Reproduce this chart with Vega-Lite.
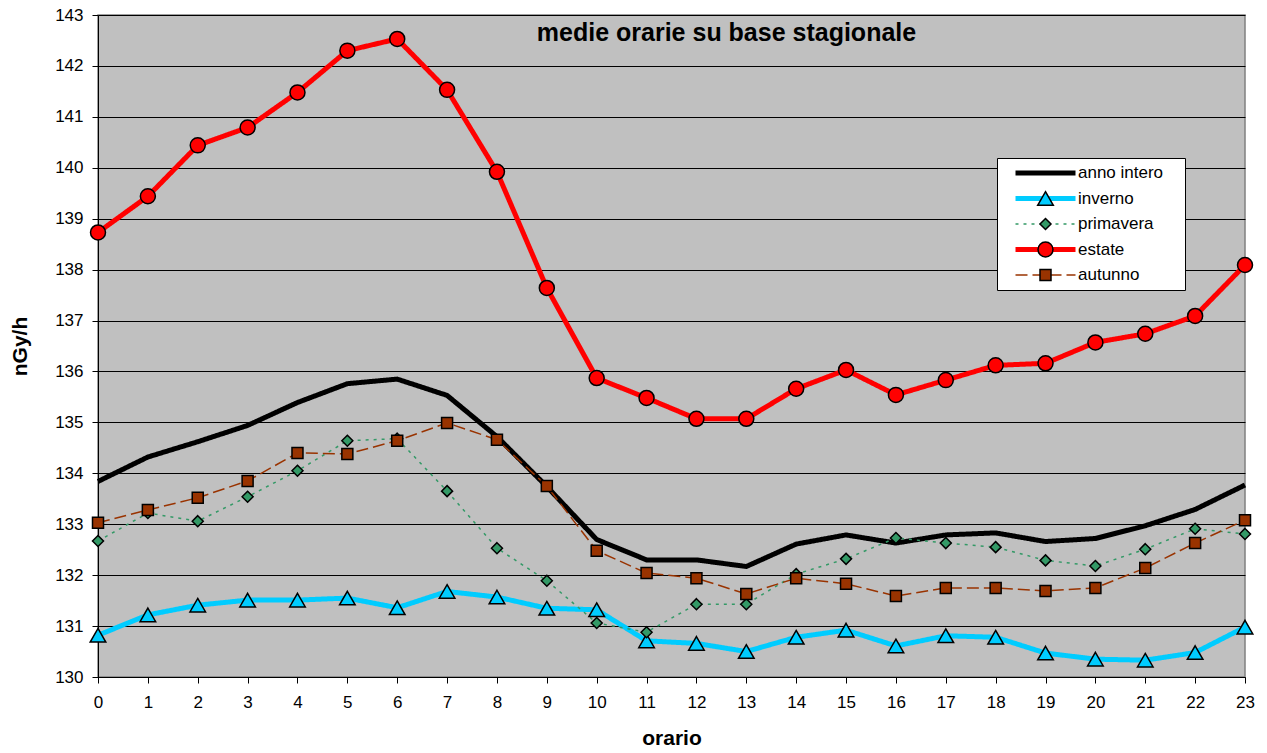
{
  "$schema": "https://vega.github.io/schema/vega-lite/v6.json",
  "width": 1147,
  "height": 662,
  "autosize": {"type": "none"},
  "padding": {"left": 98, "top": 15, "right": 22, "bottom": 76},
  "background": "white",
  "config": {
    "font": "Liberation Sans",
    "view": {"fill": "#C0C0C0", "stroke": "#808080", "strokeWidth": 1.5}
  },
  "title": {
    "text": "medie orarie su base stagionale",
    "font": "Liberation Sans",
    "fontSize": 25,
    "fontWeight": "bold",
    "color": "black",
    "anchor": "middle",
    "frame": "group",
    "offset": -40,
    "dx": 55
  },
  "data": {
    "values": [
      {"ora": 0, "serie": "anno intero", "valore": 133.84},
      {"ora": 1, "serie": "anno intero", "valore": 134.32},
      {"ora": 2, "serie": "anno intero", "valore": 134.62},
      {"ora": 3, "serie": "anno intero", "valore": 134.94},
      {"ora": 4, "serie": "anno intero", "valore": 135.39},
      {"ora": 5, "serie": "anno intero", "valore": 135.76},
      {"ora": 6, "serie": "anno intero", "valore": 135.85},
      {"ora": 7, "serie": "anno intero", "valore": 135.53},
      {"ora": 8, "serie": "anno intero", "valore": 134.72},
      {"ora": 9, "serie": "anno intero", "valore": 133.74},
      {"ora": 10, "serie": "anno intero", "valore": 132.70},
      {"ora": 11, "serie": "anno intero", "valore": 132.30},
      {"ora": 12, "serie": "anno intero", "valore": 132.30},
      {"ora": 13, "serie": "anno intero", "valore": 132.17},
      {"ora": 14, "serie": "anno intero", "valore": 132.61},
      {"ora": 15, "serie": "anno intero", "valore": 132.79},
      {"ora": 16, "serie": "anno intero", "valore": 132.63},
      {"ora": 17, "serie": "anno intero", "valore": 132.79},
      {"ora": 18, "serie": "anno intero", "valore": 132.83},
      {"ora": 19, "serie": "anno intero", "valore": 132.66},
      {"ora": 20, "serie": "anno intero", "valore": 132.72},
      {"ora": 21, "serie": "anno intero", "valore": 132.97},
      {"ora": 22, "serie": "anno intero", "valore": 133.29},
      {"ora": 23, "serie": "anno intero", "valore": 133.77},
      {"ora": 0, "serie": "inverno", "valore": 130.82},
      {"ora": 1, "serie": "inverno", "valore": 131.22},
      {"ora": 2, "serie": "inverno", "valore": 131.41},
      {"ora": 3, "serie": "inverno", "valore": 131.51},
      {"ora": 4, "serie": "inverno", "valore": 131.51},
      {"ora": 5, "serie": "inverno", "valore": 131.55},
      {"ora": 6, "serie": "inverno", "valore": 131.36},
      {"ora": 7, "serie": "inverno", "valore": 131.68},
      {"ora": 8, "serie": "inverno", "valore": 131.57},
      {"ora": 9, "serie": "inverno", "valore": 131.35},
      {"ora": 10, "serie": "inverno", "valore": 131.32},
      {"ora": 11, "serie": "inverno", "valore": 130.71},
      {"ora": 12, "serie": "inverno", "valore": 130.66},
      {"ora": 13, "serie": "inverno", "valore": 130.50},
      {"ora": 14, "serie": "inverno", "valore": 130.78},
      {"ora": 15, "serie": "inverno", "valore": 130.92},
      {"ora": 16, "serie": "inverno", "valore": 130.61},
      {"ora": 17, "serie": "inverno", "valore": 130.81},
      {"ora": 18, "serie": "inverno", "valore": 130.78},
      {"ora": 19, "serie": "inverno", "valore": 130.47},
      {"ora": 20, "serie": "inverno", "valore": 130.35},
      {"ora": 21, "serie": "inverno", "valore": 130.33},
      {"ora": 22, "serie": "inverno", "valore": 130.48},
      {"ora": 23, "serie": "inverno", "valore": 130.98},
      {"ora": 0, "serie": "primavera", "valore": 132.67},
      {"ora": 1, "serie": "primavera", "valore": 133.22},
      {"ora": 2, "serie": "primavera", "valore": 133.06},
      {"ora": 3, "serie": "primavera", "valore": 133.54},
      {"ora": 4, "serie": "primavera", "valore": 134.05},
      {"ora": 5, "serie": "primavera", "valore": 134.64},
      {"ora": 6, "serie": "primavera", "valore": 134.68},
      {"ora": 7, "serie": "primavera", "valore": 133.65},
      {"ora": 8, "serie": "primavera", "valore": 132.53},
      {"ora": 9, "serie": "primavera", "valore": 131.89},
      {"ora": 10, "serie": "primavera", "valore": 131.06},
      {"ora": 11, "serie": "primavera", "valore": 130.88},
      {"ora": 12, "serie": "primavera", "valore": 131.43},
      {"ora": 13, "serie": "primavera", "valore": 131.43},
      {"ora": 14, "serie": "primavera", "valore": 132.02},
      {"ora": 15, "serie": "primavera", "valore": 132.32},
      {"ora": 16, "serie": "primavera", "valore": 132.73},
      {"ora": 17, "serie": "primavera", "valore": 132.63},
      {"ora": 18, "serie": "primavera", "valore": 132.55},
      {"ora": 19, "serie": "primavera", "valore": 132.29},
      {"ora": 20, "serie": "primavera", "valore": 132.18},
      {"ora": 21, "serie": "primavera", "valore": 132.51},
      {"ora": 22, "serie": "primavera", "valore": 132.91},
      {"ora": 23, "serie": "primavera", "valore": 132.81},
      {"ora": 0, "serie": "estate", "valore": 138.73},
      {"ora": 1, "serie": "estate", "valore": 139.44},
      {"ora": 2, "serie": "estate", "valore": 140.44},
      {"ora": 3, "serie": "estate", "valore": 140.79},
      {"ora": 4, "serie": "estate", "valore": 141.48},
      {"ora": 5, "serie": "estate", "valore": 142.30},
      {"ora": 6, "serie": "estate", "valore": 142.53},
      {"ora": 7, "serie": "estate", "valore": 141.53},
      {"ora": 8, "serie": "estate", "valore": 139.92},
      {"ora": 9, "serie": "estate", "valore": 137.64},
      {"ora": 10, "serie": "estate", "valore": 135.87},
      {"ora": 11, "serie": "estate", "valore": 135.48},
      {"ora": 12, "serie": "estate", "valore": 135.07},
      {"ora": 13, "serie": "estate", "valore": 135.07},
      {"ora": 14, "serie": "estate", "valore": 135.66},
      {"ora": 15, "serie": "estate", "valore": 136.03},
      {"ora": 16, "serie": "estate", "valore": 135.54},
      {"ora": 17, "serie": "estate", "valore": 135.83},
      {"ora": 18, "serie": "estate", "valore": 136.12},
      {"ora": 19, "serie": "estate", "valore": 136.16},
      {"ora": 20, "serie": "estate", "valore": 136.57},
      {"ora": 21, "serie": "estate", "valore": 136.74},
      {"ora": 22, "serie": "estate", "valore": 137.09},
      {"ora": 23, "serie": "estate", "valore": 138.09},
      {"ora": 0, "serie": "autunno", "valore": 133.03},
      {"ora": 1, "serie": "autunno", "valore": 133.28},
      {"ora": 2, "serie": "autunno", "valore": 133.52},
      {"ora": 3, "serie": "autunno", "valore": 133.85},
      {"ora": 4, "serie": "autunno", "valore": 134.40},
      {"ora": 5, "serie": "autunno", "valore": 134.38},
      {"ora": 6, "serie": "autunno", "valore": 134.64},
      {"ora": 7, "serie": "autunno", "valore": 134.99},
      {"ora": 8, "serie": "autunno", "valore": 134.66},
      {"ora": 9, "serie": "autunno", "valore": 133.75},
      {"ora": 10, "serie": "autunno", "valore": 132.48},
      {"ora": 11, "serie": "autunno", "valore": 132.04},
      {"ora": 12, "serie": "autunno", "valore": 131.94},
      {"ora": 13, "serie": "autunno", "valore": 131.63},
      {"ora": 14, "serie": "autunno", "valore": 131.94},
      {"ora": 15, "serie": "autunno", "valore": 131.83},
      {"ora": 16, "serie": "autunno", "valore": 131.59},
      {"ora": 17, "serie": "autunno", "valore": 131.75},
      {"ora": 18, "serie": "autunno", "valore": 131.75},
      {"ora": 19, "serie": "autunno", "valore": 131.69},
      {"ora": 20, "serie": "autunno", "valore": 131.75},
      {"ora": 21, "serie": "autunno", "valore": 132.14},
      {"ora": 22, "serie": "autunno", "valore": 132.63},
      {"ora": 23, "serie": "autunno", "valore": 133.08}
    ]
  },
  "layer": [
    {
      "mark": {"type": "line", "strokeCap": "butt", "strokeJoin": "round"},
      "encoding": {
        "x": {
          "field": "ora",
          "type": "quantitative",
          "scale": {"domain": [0, 23], "nice": false, "zero": false},
          "axis": {
            "title": "orario",
            "values": [0,1,2,3,4,5,6,7,8,9,10,11,12,13,14,15,16,17,18,19,20,21,22,23],
            "grid": false,
            "domainColor": "black",
            "tickColor": "black",
            "tickSize": 6,
            "labelFontSize": 17,
            "labelFont": "Liberation Sans",
            "labelColor": "black",
            "labelPadding": 11,
            "labelFlush": false,
            "labelOverlap": false,
            "labelAngle": 0,
            "titleFont": "Liberation Sans",
            "titleFontSize": 21,
            "titleFontWeight": "bold",
            "titleColor": "black",
            "titlePadding": 17,
            "zindex": 0
          }
        },
        "y": {
          "field": "valore",
          "type": "quantitative",
          "scale": {"domain": [130, 143], "nice": false, "zero": false},
          "axis": {
            "title": "nGy/h",
            "values": [130,131,132,133,134,135,136,137,138,139,140,141,142,143],
            "grid": true,
            "gridColor": "black",
            "gridWidth": 1,
            "gridOpacity": 1,
            "domainColor": "black",
            "tickColor": "black",
            "tickSize": 6,
            "labelFontSize": 17,
            "labelFont": "Liberation Sans",
            "labelColor": "black",
            "labelPadding": 9,
            "labelFlush": false,
            "labelOverlap": false,
            "titleFont": "Liberation Sans",
            "titleFontSize": 21,
            "titleFontWeight": "bold",
            "titleColor": "black",
            "titlePadding": 24,
            "zindex": 0
          }
        },
        "color": {
          "field": "serie",
          "type": "nominal",
          "scale": {
            "domain": ["anno intero", "inverno", "primavera", "estate", "autunno"],
            "range": ["#000000", "#00CCFF", "#339966", "#FF0000", "#993300"]
          },
          "legend": {
            "title": null,
            "orient": "none",
            "legendX": 899,
            "legendY": 143,
            "direction": "vertical",
            "columns": 1,
            "padding": 6,
            "fillColor": "white",
            "strokeColor": "black",
            "symbolType": "M-1,0H1",
            "symbolSize": 3600,
            "symbolStrokeWidth": 5,
            "symbolOffset": 10,
            "labelOffset": 10,
            "clipHeight": 18,
            "rowPadding": 7.5,
            "labelFontSize": 17,
            "labelFont": "Liberation Sans",
            "labelColor": "black",
            "zindex": 1,
            "encode": {
              "symbols": {"update": {
                "x": {"value": 42.5},
                "size": {"value": 3600},
                "strokeWidth": {"signal": "datum.value === 'primavera' || datum.value === 'autunno' ? 1.5 : 5"}
              }},
              "labels": {"update": {"x": {"value": 75}}},
              "entries": {"update": {"width": {"value": 176}}}
            }
          }
        },
        "strokeDash": {
          "field": "serie",
          "type": "nominal",
          "scale": {
            "domain": ["anno intero", "inverno", "primavera", "estate", "autunno"],
            "range": [[1, 0], [1, 0], [3, 5], [1, 0], [12, 5]]
          },
          "legend": {
            "title": null,
            "orient": "none",
            "legendX": 899,
            "legendY": 143,
            "direction": "vertical",
            "columns": 1,
            "padding": 6,
            "fillColor": "white",
            "strokeColor": "black",
            "symbolType": "M-1,0H1",
            "symbolSize": 3600,
            "symbolStrokeWidth": 5,
            "symbolOffset": 10,
            "labelOffset": 10,
            "clipHeight": 18,
            "rowPadding": 7.5,
            "labelFontSize": 17,
            "labelFont": "Liberation Sans",
            "labelColor": "black",
            "zindex": 1,
            "encode": {
              "symbols": {"update": {
                "x": {"value": 42.5},
                "size": {"value": 3600},
                "strokeWidth": {"signal": "datum.value === 'primavera' || datum.value === 'autunno' ? 1.5 : 5"}
              }},
              "labels": {"update": {"x": {"value": 75}}},
              "entries": {"update": {"width": {"value": 176}}}
            }
          }
        },
        "strokeWidth": {
          "condition": {"test": "datum.serie === 'primavera' || datum.serie === 'autunno'", "value": 1.5},
          "value": 5
        }
      }
    },
    {
      "transform": [{"filter": "datum.serie !== 'anno intero'"}],
      "mark": {"type": "point", "filled": true, "stroke": "black", "strokeWidth": 1.5, "size": 400, "opacity": 1},
      "encoding": {
        "x": {"field": "ora", "type": "quantitative"},
        "y": {"field": "valore", "type": "quantitative"},
        "fill": {
          "field": "serie",
          "type": "nominal",
          "scale": {
            "domain": ["inverno", "primavera", "estate", "autunno"],
            "range": ["#00CCFF", "#339966", "#FF0000", "#993300"]
          },
          "legend": {
            "title": null,
            "orient": "none",
            "legendX": 899,
            "legendY": 168.5,
            "direction": "vertical",
            "columns": 1,
            "padding": 6,
            "symbolSize": 400,
            "symbolStrokeColor": "black",
            "symbolStrokeWidth": 1.5,
            "symbolOpacity": 1,
            "symbolOffset": 10,
            "labelOffset": 45,
            "clipHeight": 18,
            "rowPadding": 7.5,
            "labelFontSize": 16,
            "labelOpacity": 0,
            "labelExpr": "''",
            "zindex": 2,
            "encode": {"symbols": {"update": {"x": {"value": 42.5}}}}
          }
        },
        "shape": {
          "field": "serie",
          "type": "nominal",
          "scale": {
            "domain": ["inverno", "primavera", "estate", "autunno"],
            "range": [
              "M0,-0.68L0.78,0.68L-0.78,0.68Z",
              "M0,-0.55L0.55,0L0,0.55L-0.55,0Z",
              "M0.75,0A0.75,0.75,0,1,1,-0.75,0A0.75,0.75,0,1,1,0.75,0Z",
              "M-0.55,-0.55H0.55V0.55H-0.55Z"
            ]
          },
          "legend": {
            "title": null,
            "orient": "none",
            "legendX": 899,
            "legendY": 168.5,
            "direction": "vertical",
            "columns": 1,
            "padding": 6,
            "symbolSize": 400,
            "symbolStrokeColor": "black",
            "symbolStrokeWidth": 1.5,
            "symbolOpacity": 1,
            "symbolOffset": 10,
            "labelOffset": 45,
            "clipHeight": 18,
            "rowPadding": 7.5,
            "labelFontSize": 16,
            "labelOpacity": 0,
            "labelExpr": "''",
            "zindex": 2,
            "encode": {"symbols": {"update": {"x": {"value": 42.5}}}}
          }
        }
      }
    }
  ]
}
